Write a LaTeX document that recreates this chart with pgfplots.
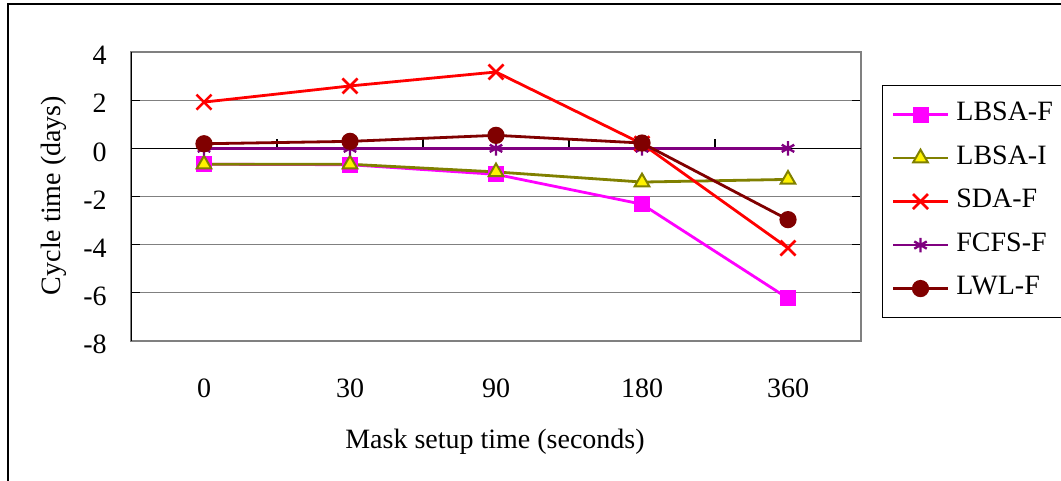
\documentclass[border=0pt]{standalone}
\usepackage{fontspec}
\setmainfont{Liberation Serif}
\usepackage{pgfplots}
\pgfplotsset{compat=1.18}
\definecolor{olivec}{RGB}{128,128,0}
\definecolor{purplec}{RGB}{128,0,128}
\definecolor{maroonc}{RGB}{128,0,0}
\definecolor{magentac}{RGB}{255,0,255}
\begin{document}
\begin{tikzpicture}[font=\fontsize{14}{16}\selectfont]
\useasboundingbox (0,0) rectangle (530.5pt,-240.5pt);
\draw[line width=0.9pt] (4pt,-2pt) rectangle (545pt,-260pt);
\begin{axis}[
  at={(65.5pt,-26pt)}, anchor=north west,
  scale only axis, width=365pt, height=144.5pt,
  xmin=-0.5, xmax=4.5, ymin=-8, ymax=4,
  xtick={0,1,2,3,4}, xticklabels={0,30,90,180,360},
  ytick={-8,-6,-4,-2,0,2,4},
  /pgf/number format/assume math mode=true,
  xtick style={draw=none},
  ytick style={black, line width=0.6pt},
  tick align=inside, major tick length=4.5pt,
  ymajorgrids, major grid style={gray, line width=0.6pt},
  axis line style={gray, line width=0.6pt},
  xticklabel style={inner sep=0pt, anchor=north, yshift=-18.6pt},
  yticklabel style={inner sep=0pt, anchor=east, xshift=-12pt, yshift=-1.75pt},
  legend style={at={(1.0288,0.8858)}, anchor=north west, draw=black, line width=0.6pt,
    inner xsep=4.5pt, inner ysep=3.6pt, row sep=0pt,
    nodes={inner sep=0pt, text height=14pt, text depth=7.75pt, anchor=west},
    /tikz/every odd column/.append style={column sep=3.5pt}},
  legend cell align=left,
  legend image code/.code={\draw[mark repeat=2,mark phase=2,#1] plot coordinates {(0pt,0pt)(13.75pt,0pt)(27.5pt,0pt)};},
  every axis plot/.append style={line width=1.4pt},
]
\draw[black, line width=0.7pt] (axis cs:-0.5,0) -- (axis cs:4.5,0);
\pgfplotsinvokeforeach{0.5,1.5,2.5,3.5}{\draw[black, line width=0.6pt] (axis cs:#1,0) -- ++(0pt,4.5pt);}
\draw[black, line width=0.7pt] (axis cs:-0.5,-8) -- (axis cs:-0.5,4);
\addplot[color=magentac, mark=square*, mark size=3.75pt, mark options={fill=magentac, draw=magentac, line width=0.5pt}]
  coordinates {(0,-0.66) (1,-0.68) (2,-1.08) (3,-2.32) (4,-6.23)};
\addlegendentry{LBSA-F}
\addplot[color=olivec, mark=triangle*, mark size=4.2pt, mark options={fill=yellow, draw=olivec, line width=1pt}]
  coordinates {(0,-0.66) (1,-0.66) (2,-0.98) (3,-1.40) (4,-1.29)};
\addlegendentry{LBSA-I}
\addplot[color=red, mark=x, mark size=5.3pt, mark options={line width=1.3pt}]
  coordinates {(0,1.92) (1,2.59) (2,3.17) (3,0.19) (4,-4.14)};
\addlegendentry{SDA-F}
\addplot[color=purplec, mark=asterisk, mark size=3.6pt, mark options={line width=1.2pt}]
  coordinates {(0,0) (1,0) (2,0) (3,0) (4,0)};
\addlegendentry{FCFS-F}
\addplot[color=maroonc, mark=*, mark size=3.6pt, mark options={fill=maroonc, draw=maroonc}]
  coordinates {(0,0.19) (1,0.29) (2,0.54) (3,0.22) (4,-2.96)};
\addlegendentry{LWL-F}
\end{axis}
\node[rotate=90, anchor=base, inner sep=0pt] at (30.5pt,-97.75pt) {Cycle time (days)};
\node[anchor=base, inner sep=0pt] at (247.5pt,-224pt) {Mask setup time (seconds)};
\end{tikzpicture}
\end{document}
